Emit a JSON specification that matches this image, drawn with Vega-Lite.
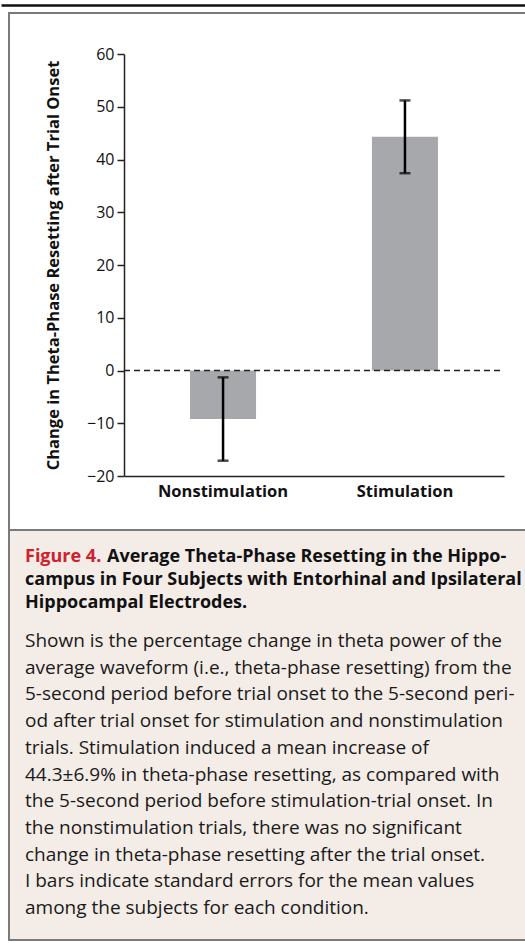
{
  "$schema": "https://vega.github.io/schema/vega-lite/v6.json",
  "background": "white",
  "padding": {"left": 0, "top": 4, "right": 0, "bottom": 0},
  "spacing": 0,
  "bounds": "flush",
  "config": {"font": "Open Sans"},
  "datasets": {
    "bars": [
      {"condition": "Nonstimulation", "mean": -9.2, "lo": -17.1, "hi": -1.3},
      {"condition": "Stimulation", "mean": 44.3, "lo": 37.4, "hi": 51.2}
    ],
    "figLabel": [{"line": 1, "text": "Figure 4."}],
    "titleLines": [
      {"line": 1, "text": "Average Theta-Phase Resetting in the Hippo-"},
      {"line": 2, "text": "campus in Four Subjects with Entorhinal and Ipsilateral"},
      {"line": 3, "text": "Hippocampal Electrodes."}
    ],
    "bodyLines": [
      {"line": 1, "text": "Shown is the percentage change in theta power of the"},
      {"line": 2, "text": "average waveform (i.e., theta-phase resetting) from the"},
      {"line": 3, "text": "5-second period before trial onset to the 5-second peri-"},
      {"line": 4, "text": "od after trial onset for stimulation and nonstimulation"},
      {"line": 5, "text": "trials. Stimulation induced a mean increase of"},
      {"line": 6, "text": "44.3±6.9% in theta-phase resetting, as compared with"},
      {"line": 7, "text": "the 5-second period before stimulation-trial onset. In"},
      {"line": 8, "text": "the nonstimulation trials, there was no significant"},
      {"line": 9, "text": "change in theta-phase resetting after the trial onset."},
      {"line": 10, "text": "I bars indicate standard errors for the mean values"},
      {"line": 11, "text": "among the subjects for each condition."}
    ]
  },
  "vconcat": [
    {
      "width": 520,
      "height": 517,
      "view": {"fill": "white", "stroke": "#7a7a7a", "strokeWidth": 2},
      "layer": [
        {
          "data": {"name": "bars"},
          "encoding": {
            "x": {
              "field": "condition",
              "type": "nominal",
              "sort": ["Nonstimulation", "Stimulation"],
              "scale": {"type": "band", "range": [115, 495], "paddingInner": 0.637, "paddingOuter": 0.363},
              "axis": {
                "orient": "bottom",
                "offset": -54,
                "title": null,
                "labelAngle": 0,
                "ticks": false,
                "domainColor": "#222222",
                "domainWidth": 1.5,
                "labelFont": "Open Sans",
                "labelFontSize": 16.5,
                "labelFontWeight": "bold",
                "labelColor": "#111111",
                "labelPadding": 7
              }
            }
          },
          "layer": [
            {
              "mark": {"type": "bar", "color": "#a7a8ab"},
              "encoding": {
                "y": {
                  "field": "mean",
                  "type": "quantitative",
                  "scale": {"domain": [-20, 60], "range": [463, 41], "nice": false, "zero": false},
                  "axis": {
                    "orient": "left",
                    "offset": -115,
                    "values": [-20, -10, 0, 10, 20, 30, 40, 50, 60],
                    "grid": false,
                    "tickSize": 7,
                    "tickWidth": 1.5,
                    "tickColor": "#222222",
                    "domainColor": "#222222",
                    "domainWidth": 1.5,
                    "labelFontSize": 16,
                    "labelColor": "#111111",
                    "labelPadding": 3,
                    "title": "Change in Theta-Phase Resetting after Trial Onset",
                    "titleFontSize": 16.5,
                    "titleFontWeight": "bold",
                    "titleColor": "#111111",
                    "titlePadding": 25
                  }
                },
                "y2": {"datum": 0}
              }
            },
            {
              "mark": {"type": "rule", "color": "black", "strokeWidth": 2.5},
              "encoding": {
                "y": {"field": "lo", "type": "quantitative"},
                "y2": {"field": "hi"}
              }
            },
            {
              "mark": {"type": "tick", "orient": "horizontal", "color": "black", "size": 11, "thickness": 2.5},
              "encoding": {"y": {"field": "lo", "type": "quantitative"}}
            },
            {
              "mark": {"type": "tick", "orient": "horizontal", "color": "black", "size": 11, "thickness": 2.5},
              "encoding": {"y": {"field": "hi", "type": "quantitative"}}
            }
          ]
        },
        {
          "data": {"values": [{"ref": 0}]},
          "mark": {"type": "rule", "color": "#222222", "strokeWidth": 1.3, "strokeDash": [6, 4]},
          "encoding": {
            "y": {"datum": 0, "type": "quantitative"},
            "x": {"datum": 0, "type": "quantitative", "scale": {"domain": [0, 1], "range": [115, 495]}, "axis": null},
            "x2": {"datum": 1}
          }
        },
        {
          "data": {"values": [{"ref": 0}]},
          "mark": {"type": "rule", "opacity": 0},
          "encoding": {
            "x": {
              "datum": 0,
              "type": "quantitative",
              "scale": {"domain": [0, 1], "range": [-8, 525]},
              "axis": {
                "orient": "top",
                "offset": 8,
                "domainColor": "#111111",
                "domainWidth": 2.5,
                "ticks": false,
                "labels": false,
                "grid": false,
                "title": null
              }
            }
          }
        }
      ],
      "resolve": {"scale": {"x": "independent"}, "axis": {"x": "independent"}}
    },
    {
      "width": 520,
      "height": 410,
      "view": {"fill": "#f3ece7", "stroke": "#7a7a7a", "strokeWidth": 2},
      "encoding": {
        "x": {"datum": 0, "type": "quantitative", "scale": {"domain": [0, 1], "range": [16, 520]}, "axis": null}
      },
      "layer": [
        {
          "encoding": {
            "y": {"field": "line", "type": "quantitative", "scale": {"domain": [1, 3], "range": [32, 78], "nice": false, "zero": false}, "axis": null},
            "text": {"field": "text"}
          },
          "layer": [
            {
              "data": {"name": "figLabel"},
              "mark": {"type": "text", "align": "left", "baseline": "alphabetic", "font": "Open Sans", "fontSize": 18, "fontWeight": "bold", "color": "#d0202e"}
            },
            {
              "data": {"name": "titleLines"},
              "transform": [{"filter": "datum.line == 1"}],
              "mark": {"type": "text", "align": "left", "baseline": "alphabetic", "dx": 82, "font": "Open Sans", "fontSize": 18, "fontWeight": "bold", "color": "#111111"}
            },
            {
              "data": {"name": "titleLines"},
              "transform": [{"filter": "datum.line > 1"}],
              "mark": {"type": "text", "align": "left", "baseline": "alphabetic", "font": "Open Sans", "fontSize": 18, "fontWeight": "bold", "color": "#111111"}
            }
          ]
        },
        {
          "data": {"name": "bodyLines"},
          "mark": {"type": "text", "align": "left", "baseline": "alphabetic", "font": "Open Sans", "fontSize": 19, "color": "#1a1a1a"},
          "encoding": {
            "y": {"field": "line", "type": "quantitative", "scale": {"domain": [1, 11], "range": [117, 384], "nice": false, "zero": false}, "axis": null},
            "text": {"field": "text"}
          }
        }
      ],
      "resolve": {"scale": {"y": "independent"}}
    }
  ]
}
